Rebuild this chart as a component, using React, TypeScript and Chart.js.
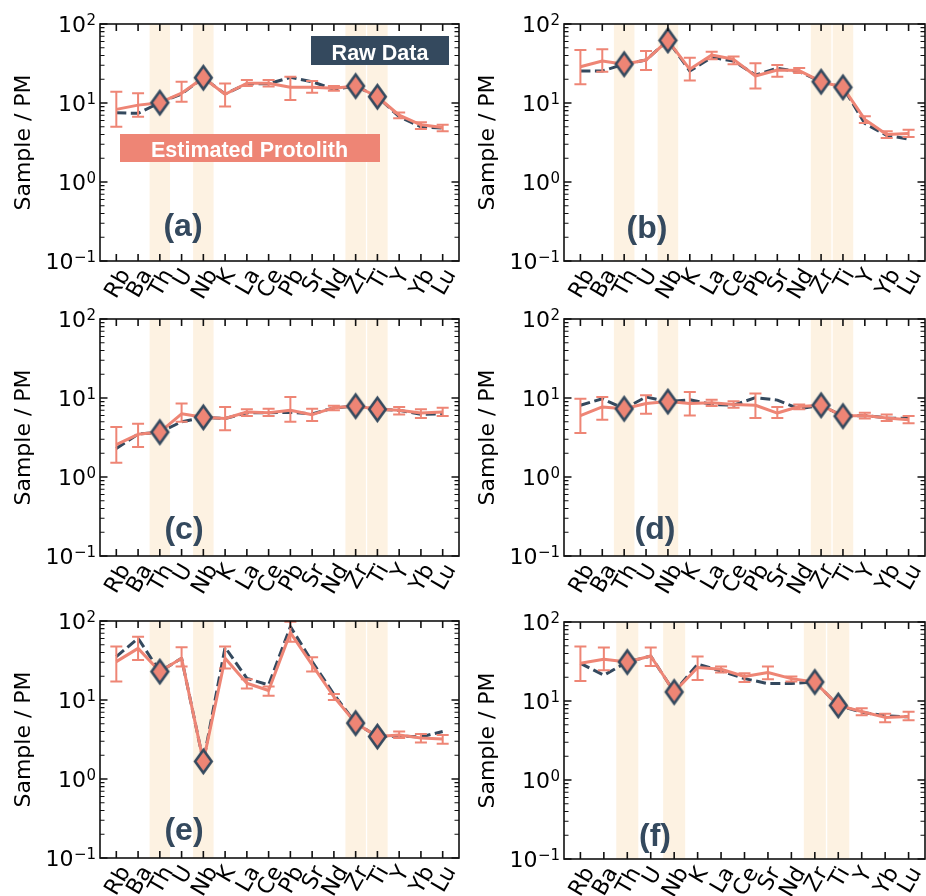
import React, { useEffect, useRef } from "react";
import { Chart, registerables } from "chart.js";

Chart.register(...registerables);

// ---------- data ----------
const ELEMENTS_16 = ["Rb", "Ba", "Th", "U", "Nb", "K", "La", "Ce", "Pb", "Sr", "Nd", "Zr", "Ti", "Y", "Yb", "Lu"];
const ELEMENTS_15 = ["Rb", "Ba", "Th", "U", "Nb", "K", "La", "Ce", "Sr", "Nd", "Zr", "Ti", "Y", "Yb", "Lu"];
const IMMOBILE = ["Th", "Nb", "Zr", "Ti"];
const Y_EXPONENTS = [-1, 0, 1, 2];
const Y_TITLE = "Sample / PM";
const PANEL_LABELS = ["(a)", "(b)", "(c)", "(d)", "(e)", "(f)"];
const RAW_LABEL = "Raw Data";
const PROTO_LABEL = "Estimated Protolith";

// (a)
const rawA = [7.5, 7.4, 10.1, 13.0, 20.9, 13.0, 17.5, 17.5, 21.1, 18.6, 14.9, 16.4, 12.0, 6.7, 5.0, 4.8];
const protoA = [8.3, 9.4, 10.1, 13.3, 20.9, 12.9, 17.8, 17.8, 15.8, 15.8, 15.4, 16.4, 12.0, 7.0, 5.3, 4.9];
const lowA = [5.0, 6.7, null, 10.4, null, 9.0, 16.4, 16.2, 10.9, 13.5, 14.3, null, null, 6.4, 4.7, 4.4];
const highA = [13.9, 13.3, null, 18.6, null, 17.7, 19.5, 19.5, 21.5, 19.0, 16.4, null, null, 7.6, 5.7, 5.3];

// (b)
const rawB = [25.4, 25.4, 31.0, 35.0, 62.0, 25.4, 37.8, 34.0, 22.6, 27.5, 24.9, 18.6, 15.8, 5.5, 3.9, 3.5];
const protoB = [28.8, 34.0, 31.0, 35.0, 62.0, 26.7, 40.5, 35.7, 22.0, 26.2, 25.7, 18.6, 15.8, 6.2, 4.0, 4.1];
const lowB = [17.3, 24.9, null, 26.2, null, 19.2, 35.7, 31.0, 15.3, 21.5, 24.0, null, null, 5.6, 3.6, 3.7];
const highB = [46.9, 47.9, null, 45.5, null, 37.5, 44.7, 38.9, 31.8, 30.3, 27.8, null, null, 6.8, 4.4, 4.6];

// (c)
const rawC = [2.3, 3.5, 3.7, 5.0, 5.7, 5.5, 6.5, 6.5, 6.6, 6.3, 7.5, 7.9, 7.2, 7.0, 6.2, 6.3];
const protoC = [2.57, 3.47, 3.7, 6.3, 5.7, 5.5, 6.65, 6.5, 7.0, 6.15, 7.55, 7.9, 7.2, 7.0, 6.45, 6.65];
const lowC = [1.52, 2.4, null, 5.0, null, 3.9, 5.9, 5.9, 5.0, 5.1, 7.0, null, null, 6.2, 5.6, 5.9];
const highC = [4.3, 4.73, null, 8.5, null, 7.7, 7.2, 7.3, 10.3, 7.3, 8.0, null, null, 7.7, 7.2, 7.5];

// (d)
const rawD = [8.1, 9.8, 7.3, 10.3, 9.0, 9.5, 8.3, 8.1, 10.1, 9.4, 7.3, 8.1, 5.9, 6.0, 5.6, 5.5];
const protoD = [6.0, 7.7, 7.3, 8.5, 9.0, 8.5, 8.7, 8.3, 8.1, 6.45, 7.8, 8.1, 5.9, 6.0, 5.6, 5.3];
const lowD = [3.6, 5.3, null, 6.3, null, 6.0, 7.9, 7.5, 5.6, 5.6, 7.2, null, null, 5.5, 5.1, 4.8];
const highD = [9.8, 10.3, null, 10.8, null, 11.9, 9.5, 9.1, 11.4, 7.7, 8.3, null, null, 6.5, 6.2, 5.9];

// (e)
const rawE = [35.4, 60.4, 22.9, 33.7, 1.67, 46.4, 18.8, 15.5, 84.8, 30.6, 11.8, 5.1, 3.45, 3.5, 3.4, 4.0];
const protoE = [30.6, 45.0, 22.9, 33.7, 1.67, 33.7, 16.3, 13.2, 71.3, 27.8, 11.0, 5.1, 3.45, 3.6, 3.3, 3.2];
const lowE = [17.1, 32.1, null, 26.5, null, 25.0, 14.0, 11.3, 54.8, 22.9, 10.0, null, null, 3.3, 2.9, 2.8];
const highE = [47.4, 63.4, null, 46.4, null, 47.4, 18.3, 14.8, 98.0, 34.8, 11.9, null, null, 4.0, 3.7, 3.6];

// (f)
const rawF = [30.0, 21.2, 31.2, 37.0, 13.0, 29.2, 24.0, 19.2, 16.6, 16.6, 17.4, 8.8, 7.2, 6.5, 6.3];
const protoF = [30.0, 33.7, 31.2, 37.1, 13.0, 26.5, 25.2, 20.4, 22.9, 19.2, 17.4, 8.8, 7.35, 6.2, 6.35];
const lowF = [17.9, 24.5, null, 27.8, null, 18.5, 22.9, 17.4, 18.9, 17.7, null, null, 6.6, 5.4, 5.7];
const highF = [48.8, 47.4, null, 47.4, null, 36.5, 27.3, 22.4, 27.3, 20.4, null, null, 8.1, 6.9, 7.3];

// ---------- style / layout ----------
const NAVY = "#34495e";
const SALMON = "#ee8575";
const BAND = "#fdf2e2";
const AXIS = "#111111";
const TICK_FONT = '22px "DejaVu Sans"';
const SUP_FONT = '15px "DejaVu Sans"';
const XLAB_PX = 22;
const XLAB_FONT = `${XLAB_PX}px "DejaVu Sans"`;
const TITLE_FONT = '22px "DejaVu Sans"';
const PANEL_FONT = 'bold 32px "Liberation Sans"';
const BOX_FONT = 'bold 21.5px "Liberation Sans"';

type Layout = {
  cell: [number, number, number, number];
  area: [number, number, number, number];
  labelOffset: [number, number];
  boxes: boolean;
};

const LAYOUTS: Layout[] = [
  { cell: [0, 0, 470, 305], area: [100, 24, 464.5, 261], labelOffset: [83, 203.5], boxes: true },
  { cell: [470, 0, 466, 305], area: [564, 24, 928, 261], labelOffset: [83, 205], boxes: false },
  { cell: [0, 295, 470, 310], area: [100, 319, 464.5, 556], labelOffset: [84, 211.5], boxes: false },
  { cell: [470, 295, 466, 310], area: [564, 319, 928, 556], labelOffset: [91, 211.5], boxes: false },
  { cell: [0, 600, 470, 296], area: [100, 621, 464.5, 858], labelOffset: [84, 210], boxes: false },
  { cell: [470, 600, 466, 296], area: [564, 622, 928, 859], labelOffset: [91, 215], boxes: false },
];

type Panel = {
  label: string;
  elements: string[];
  raw: number[];
  proto: number[];
  low: (number | null)[];
  high: (number | null)[];
  layout: Layout;
};

const PANELS: Panel[] = [
  { label: PANEL_LABELS[0], elements: ELEMENTS_16, raw: rawA, proto: protoA, low: lowA, high: highA, layout: LAYOUTS[0] },
  { label: PANEL_LABELS[1], elements: ELEMENTS_16, raw: rawB, proto: protoB, low: lowB, high: highB, layout: LAYOUTS[1] },
  { label: PANEL_LABELS[2], elements: ELEMENTS_16, raw: rawC, proto: protoC, low: lowC, high: highC, layout: LAYOUTS[2] },
  { label: PANEL_LABELS[3], elements: ELEMENTS_16, raw: rawD, proto: protoD, low: lowD, high: highD, layout: LAYOUTS[3] },
  { label: PANEL_LABELS[4], elements: ELEMENTS_16, raw: rawE, proto: protoE, low: lowE, high: highE, layout: LAYOUTS[4] },
  { label: PANEL_LABELS[5], elements: ELEMENTS_15, raw: rawF, proto: protoF, low: lowF, high: highF, layout: LAYOUTS[5] },
];

function makeDiamond(): HTMLCanvasElement {
  const hw = 8.3, hh = 11.6, lw = 2.6;
  const c = document.createElement("canvas");
  c.width = Math.ceil(2 * (hw + 3));
  c.height = Math.ceil(2 * (hh + 3.5));
  const ctx = c.getContext("2d")!;
  const cx = c.width / 2, cy = c.height / 2;
  ctx.beginPath();
  ctx.moveTo(cx, cy - hh);
  ctx.lineTo(cx + hw, cy);
  ctx.lineTo(cx, cy + hh);
  ctx.lineTo(cx - hw, cy);
  ctx.closePath();
  ctx.fillStyle = SALMON;
  ctx.fill();
  ctx.lineWidth = lw;
  ctx.lineJoin = "miter";
  ctx.strokeStyle = NAVY;
  ctx.stroke();
  return c;
}

function makePlugin(p: Panel) {
  return {
    id: "panelDecor",
    beforeDatasetsDraw(chart: any) {
      const { ctx, chartArea: a } = chart;
      const xs = chart.scales.x;
      ctx.save();
      ctx.fillStyle = BAND;
      p.elements.forEach((el, i) => {
        if (!IMMOBILE.includes(el)) return;
        const x0 = xs.getPixelForValue(i - 0.47);
        const x1 = xs.getPixelForValue(i + 0.47);
        ctx.fillRect(x0, a.top, x1 - x0, a.bottom - a.top);
      });
      ctx.restore();
    },
    afterDatasetDraw(chart: any, args: any) {
      if (args.index !== 1) return;
      const { ctx } = chart;
      const xs = chart.scales.x, ys = chart.scales.y;
      ctx.save();
      ctx.strokeStyle = SALMON;
      ctx.lineWidth = 2;
      p.low.forEach((lo, i) => {
        const hi = p.high[i];
        if (lo == null || hi == null) return;
        const px = xs.getPixelForValue(i);
        const y0 = ys.getPixelForValue(lo);
        const y1 = ys.getPixelForValue(hi);
        ctx.beginPath();
        ctx.moveTo(px, y0);
        ctx.lineTo(px, y1);
        ctx.moveTo(px - 6, y0);
        ctx.lineTo(px + 6, y0);
        ctx.moveTo(px - 6, y1);
        ctx.lineTo(px + 6, y1);
        ctx.stroke();
      });
      ctx.restore();
    },
    afterDraw(chart: any) {
      const { ctx, chartArea: a } = chart;
      const xs = chart.scales.x, ys = chart.scales.y;
      ctx.save();
      // frame
      ctx.strokeStyle = AXIS;
      ctx.lineWidth = 1.6;
      ctx.strokeRect(a.left, a.top, a.right - a.left, a.bottom - a.top);
      // x ticks (inward, top and bottom)
      ctx.beginPath();
      p.elements.forEach((_, i) => {
        const px = xs.getPixelForValue(i);
        ctx.moveTo(px, a.bottom);
        ctx.lineTo(px, a.bottom - 7);
        ctx.moveTo(px, a.top);
        ctx.lineTo(px, a.top + 7);
      });
      ctx.stroke();
      // y major ticks
      ctx.beginPath();
      Y_EXPONENTS.forEach((k) => {
        const py = ys.getPixelForValue(Math.pow(10, k));
        ctx.moveTo(a.left, py);
        ctx.lineTo(a.left + 7.5, py);
        ctx.moveTo(a.right, py);
        ctx.lineTo(a.right - 7.5, py);
      });
      ctx.stroke();
      // y minor ticks
      ctx.lineWidth = 1.1;
      ctx.beginPath();
      Y_EXPONENTS.slice(0, -1).forEach((k) => {
        for (let m = 2; m <= 9; m++) {
          const py = ys.getPixelForValue(m * Math.pow(10, k));
          ctx.moveTo(a.left, py);
          ctx.lineTo(a.left + 4.5, py);
          ctx.moveTo(a.right, py);
          ctx.lineTo(a.right - 4.5, py);
        }
      });
      ctx.stroke();

      // y tick labels
      ctx.fillStyle = "#000";
      Y_EXPONENTS.forEach((k) => {
        const py = ys.getPixelForValue(Math.pow(10, k));
        const sup = k < 0 ? "\u2212" + Math.abs(k) : String(k);
        const right = a.left - 4;
        ctx.font = SUP_FONT;
        const sw = ctx.measureText(sup).width;
        ctx.textAlign = "left";
        ctx.textBaseline = "alphabetic";
        ctx.fillText(sup, right - sw, py + 0.5);
        ctx.font = TICK_FONT;
        ctx.textAlign = "right";
        ctx.fillText("10", right - sw - 0.5, py + 8);
      });

      // x tick labels rotated 60°
      ctx.font = XLAB_FONT;
      const ang = Math.PI / 3;
      const capH = XLAB_PX * 0.74;
      p.elements.forEach((el, i) => {
        const px = xs.getPixelForValue(i);
        const w = ctx.measureText(el).width;
        const bh = w * Math.sin(ang) + capH * Math.cos(ang);
        const cy = a.bottom + 5 + bh / 2;
        ctx.save();
        ctx.translate(px, cy);
        ctx.rotate(-ang);
        ctx.textAlign = "center";
        ctx.textBaseline = "alphabetic";
        ctx.fillText(el, 0, capH / 2);
        ctx.restore();
      });

      // y title
      ctx.save();
      ctx.font = TITLE_FONT;
      ctx.translate(a.left - 76, (a.top + a.bottom) / 2);
      ctx.rotate(-Math.PI / 2);
      ctx.textAlign = "center";
      ctx.textBaseline = "middle";
      ctx.fillText(Y_TITLE, 0, 0);
      ctx.restore();

      // panel label
      ctx.font = PANEL_FONT;
      ctx.fillStyle = NAVY;
      ctx.textAlign = "center";
      ctx.textBaseline = "middle";
      ctx.fillText(p.label, a.left + p.layout.labelOffset[0], a.top + p.layout.labelOffset[1]);

      if (p.layout.boxes) {
        // Raw Data box
        ctx.fillStyle = NAVY;
        ctx.fillRect(a.left + 211, a.top + 12, 138, 29);
        ctx.fillStyle = "#fff";
        ctx.font = BOX_FONT;
        ctx.textAlign = "center";
        ctx.textBaseline = "alphabetic";
        ctx.fillText(RAW_LABEL, a.left + 280, a.top + 36);
        // Estimated Protolith box
        ctx.fillStyle = SALMON;
        ctx.fillRect(a.left + 20, a.top + 110, 260, 28);
        ctx.fillStyle = "#fff";
        ctx.fillText(PROTO_LABEL, a.left + 149.5, a.top + 133);
      }
      ctx.restore();
    },
  };
}

function PanelChart({ panel }: { panel: Panel }) {
  const ref = useRef<HTMLCanvasElement>(null);
  const [cx, cy, cw, ch] = panel.layout.cell;
  useEffect(() => {
    const canvas = ref.current;
    if (!canvas) return;
    const [L, T, R, B] = panel.layout.area;
    const n = panel.elements.length;
    const margin = 0.05 * (n - 1);
    const diamond = makeDiamond();
    const rawPts = panel.raw.map((v, i) => ({ x: i, y: v }));
    const protoPts = panel.proto.map((v, i) => ({ x: i, y: v }));
    const immPts = panel.elements
      .map((el, i) => ({ el, i }))
      .filter((d) => IMMOBILE.includes(d.el))
      .map((d) => ({ x: d.i, y: panel.raw[d.i] }));
    const chart = new Chart(canvas, {
      type: "line",
      data: {
        datasets: [
          {
            label: RAW_LABEL,
            data: rawPts,
            borderColor: NAVY,
            borderWidth: 3,
            borderDash: [10, 4.5],
            pointRadius: 0,
            fill: false,
            order: 2,
            borderJoinStyle: "round",
          } as any,
          {
            label: PROTO_LABEL,
            data: protoPts,
            borderColor: SALMON,
            borderWidth: 3,
            pointRadius: 0,
            fill: false,
            order: 1,
            borderJoinStyle: "round",
          } as any,
          {
            label: "Immobile",
            data: immPts,
            showLine: false,
            pointStyle: diamond,
            pointRadius: 10,
            order: 0,
            clip: false,
          } as any,
        ],
      },
      options: {
        animation: false,
        responsive: false,
        devicePixelRatio: 1,
        events: [],
        layout: {
          padding: { left: L - cx, top: T - cy, right: cx + cw - R, bottom: cy + ch - B },
        },
        plugins: { legend: { display: false }, tooltip: { enabled: false }, title: { display: false } },
        scales: {
          x: { type: "linear", min: -margin, max: n - 1 + margin, display: false },
          y: { type: "logarithmic", min: 0.1, max: 100, display: false },
        },
      } as any,
      plugins: [makePlugin(panel) as any],
    });
    return () => chart.destroy();
  }, [panel]);
  return (
    <canvas
      ref={ref}
      width={cw}
      height={ch}
      style={{ position: "absolute", left: cx, top: cy, width: cw, height: ch }}
    />
  );
}

export default function App() {
  return (
    <div
      style={{
        position: "absolute",
        left: 0,
        top: 0,
        width: 926,
        height: 896,
        overflow: "hidden",
        background: "#fff",
      }}
    >
      {PANELS.map((p) => (
        <PanelChart key={p.label} panel={p} />
      ))}
    </div>
  );
}
